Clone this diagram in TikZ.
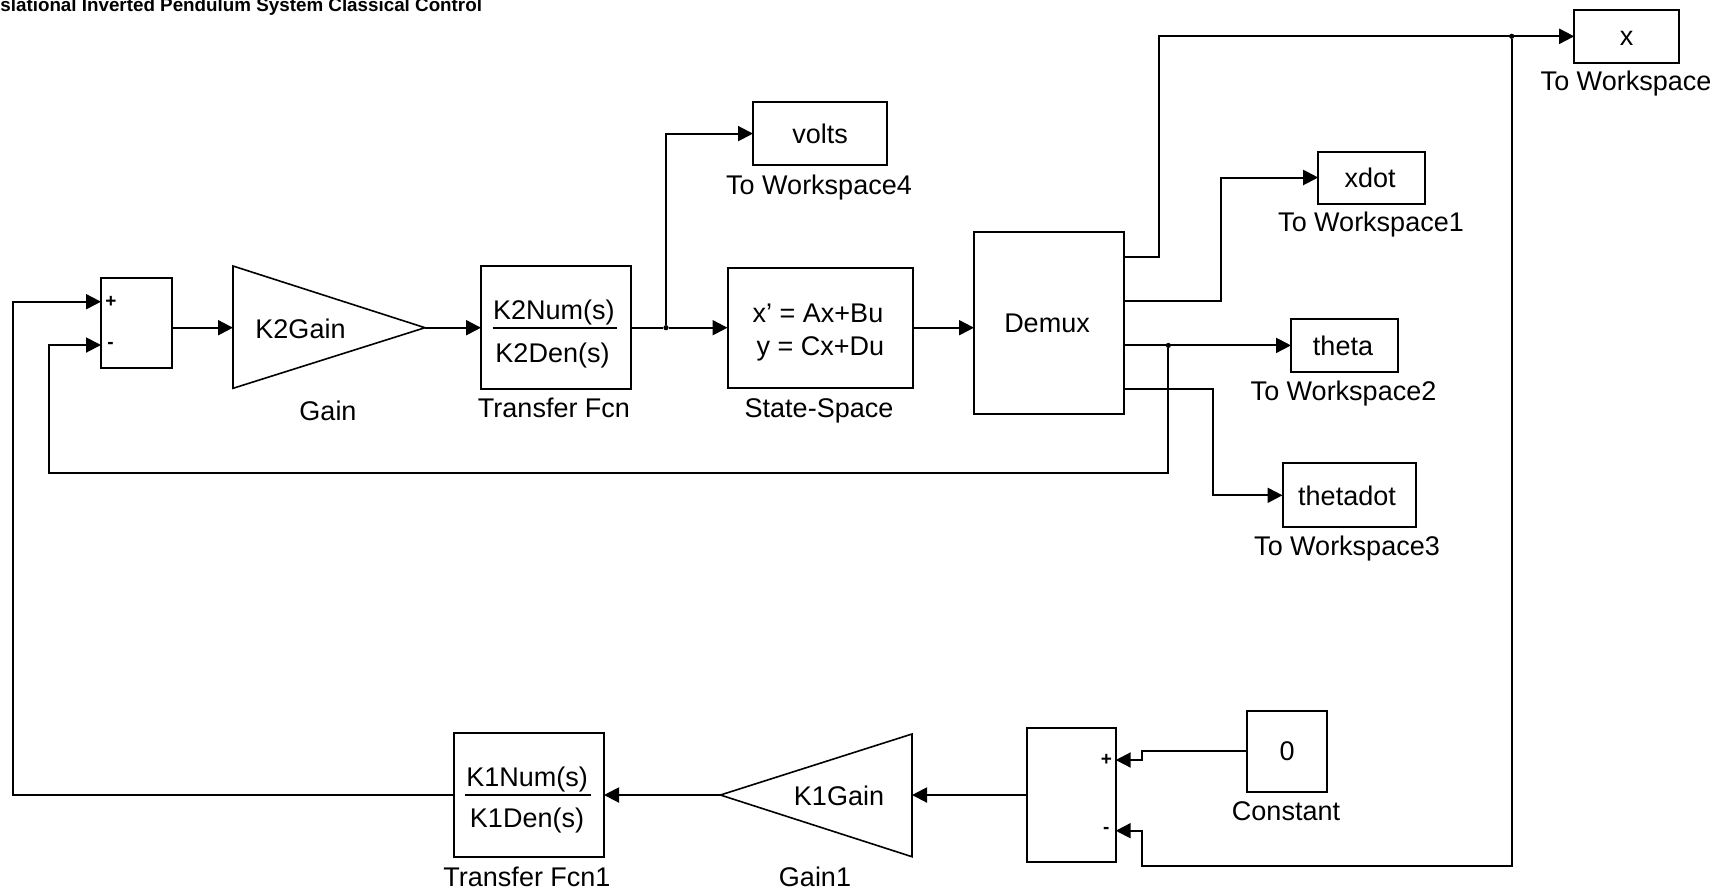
\documentclass[tikz,border=0pt]{standalone}
\usepackage{fontspec}
\setmainfont{Liberation Sans}
\usetikzlibrary{arrows.meta}
\begin{document}
\begin{tikzpicture}[x=0.5pt,y=-0.5pt,
  blk/.style={draw, line width=1pt, inner sep=0pt, outer sep=0pt},
  lbl/.style={font=\fontsize{13.5pt}{16pt}\selectfont, inner sep=0pt, anchor=base},
  sgn/.style={font=\bfseries\fontsize{9.5pt}{10pt}\selectfont, inner sep=0pt},
  wire/.style={line width=1pt},
  arr/.style={wire, -{Triangle[length=7.5pt,width=7.5pt]}},
  tri/.style={draw, line width=0.8pt},
  dotn/.style={circle, fill, inner sep=0pt, minimum size=2.6pt}
]
\useasboundingbox (0,0) rectangle (1734,891);
\clip (0,0) rectangle (1734,891);

% title
\node[font=\bfseries\fontsize{9.4pt}{11pt}\selectfont, anchor=base west, inner sep=0pt] (title) at (0,11.5) {slational Inverted Pendulum System Classical Control};

% blocks
\node[blk, minimum width=35.5pt, minimum height=45pt] (sum1) at (136.5,323.3) {};
\node[blk, minimum width=75pt, minimum height=61.5pt] (tf) at (556,327.5) {};
\node[blk, minimum width=67pt, minimum height=31.5pt] (volts) at (820,133.6) {};
\node[blk, minimum width=92.5pt, minimum height=60pt] (ss) at (820,327.5) {};
\node[blk, minimum width=75pt, minimum height=91pt] (demux) at (1049,323.2) {};
\node[blk, minimum width=52.5pt, minimum height=26.5pt] (xws) at (1626.7,36.3) {};
\node[blk, minimum width=53.5pt, minimum height=26pt] (xdotws) at (1371.7,177.5) {};
\node[blk, minimum width=53.5pt, minimum height=26.5pt] (thetaws) at (1344.5,345.4) {};
\node[blk, minimum width=66.5pt, minimum height=32pt] (thetadotws) at (1349,495.3) {};
\node[blk, minimum width=40pt, minimum height=40.5pt] (const) at (1287.3,751.2) {};
\node[blk, minimum width=44.5pt, minimum height=67pt] (sum2) at (1071.2,795.3) {};
\node[blk, minimum width=75pt, minimum height=62pt] (tf1) at (529,795) {};

% gain triangles
\draw[tri] (233,266) -- (425,327.7) -- (233,388.3) -- cycle;
\coordinate (gin) at (233,327.7);
\coordinate (gout) at (425,327.7);
\draw[tri] (912,734) -- (720.4,795) -- (912,856.7) -- cycle;
\coordinate (g1in) at (912,795);
\coordinate (g1out) at (720.4,795);

% fraction lines
\draw[wire] (492.7,327.7) -- (617.3,327.7);
\draw[wire] (465,795) -- (591,795);

% ports
\coordinate (s1p) at (101,301.7);
\coordinate (s1m) at (101,345);
\coordinate (s1o) at (172,327.7);
\coordinate (d1) at (1124,257.3);
\coordinate (d2) at (1124,300.7);
\coordinate (d3) at (1124,345.4);
\coordinate (d4) at (1124,389.3);
\coordinate (din) at (974,327.7);
\coordinate (s2p) at (1115.7,760);
\coordinate (s2m) at (1115.7,830.7);
\coordinate (s2o) at (1026.7,795);

% branch points
\node[dotn] (b1) at (666,327.7) {};
\node[dotn] (b2) at (1168.3,345.4) {};
\node[dotn] (b3) at (1511.7,36.3) {};

% connectors
\draw[arr] (s1o) -- (gin);
\draw[arr] (gout) -- (tf.west |- gout);
\draw[wire] (tf.east |- b1) -- (b1);
\draw[arr] (b1) -- (ss.west |- b1);
\draw[arr] (b1) |- (volts.west);
\draw[arr] (ss.east |- din) -- (din);
\draw[arr] (d1) -- (1159.3,257.3) |- (xws.west);
\draw[arr] (d2) -- (1221,300.7) |- (xdotws.west);
\draw[arr] (d3) -- (thetaws.west);
\draw[arr] (d4) -- (1212.5,389.3) |- (thetadotws.west);
\draw[arr] (b2) -- (1168.3,473) -- (49,473) |- (s1m);
\draw[arr] (tf1.west) -- (13,795) |- (s1p);
\draw[arr] (b3) -- (1511.7,865.7) -- (1141.7,865.7) |- (s2m);
\draw[arr] (const.west) -- (1142.3,751.2) |- (s2p);
\draw[arr] (s2o) -- (g1in);
\draw[arr] (g1out) -- (tf1.east);

% signs
\node[sgn] (p1) at (110.8,302) {+};
\node[sgn] (m1) at (110.5,345) {-};
\node[sgn] (p2) at (1106.3,760) {+};
\node[sgn] (m2) at (1106.3,830.7) {-};

% texts inside blocks
\node[lbl] (t1) at (300.5,338) {K2Gain};
\node[lbl] (t2) at (553.8,319) {K2Num(s)};
\node[lbl] (t3) at (552.5,362) {K2Den(s)};
\node[lbl] (t4) at (820,143) {volts};
\node[lbl] (t5) at (818,322) {x' = Ax+Bu};
\node[lbl] (t6) at (820.5,355) {y = Cx+Du};
\node[lbl] (t7) at (1047,332) {Demux};
\node[lbl] (t8) at (1626.7,45.5) {x};
\node[lbl] (t9) at (1370,187.3) {xdot};
\node[lbl] (t10) at (1343,355) {theta};
\node[lbl] (t11) at (1347,505) {thetadot};
\node[lbl] (t12) at (1287,760.7) {0};
\node[lbl] (t13) at (839,805) {K1Gain};
\node[lbl] (t14) at (527,786) {K1Num(s)};
\node[lbl] (t15) at (527,827) {K1Den(s)};

% labels under blocks
\node[lbl] (l1) at (328,420) {Gain};
\node[lbl] (l2) at (554,417) {Transfer Fcn};
\node[lbl] (l3) at (819,417) {State-Space};
\node[lbl] (l4) at (819,194) {To Workspace4};
\node[lbl] (l5) at (1626,90) {To Workspace};
\node[lbl] (l6) at (1371,231.7) {To Workspace1};
\node[lbl] (l7) at (1343.5,400) {To Workspace2};
\node[lbl] (l8) at (1347,555) {To Workspace3};
\node[lbl] (l9) at (1286,820.7) {Constant};
\node[lbl] (l10) at (815,886.5) {Gain1};
\node[lbl] (l11) at (527,886) {Transfer Fcn1};
\end{tikzpicture}
\end{document}
